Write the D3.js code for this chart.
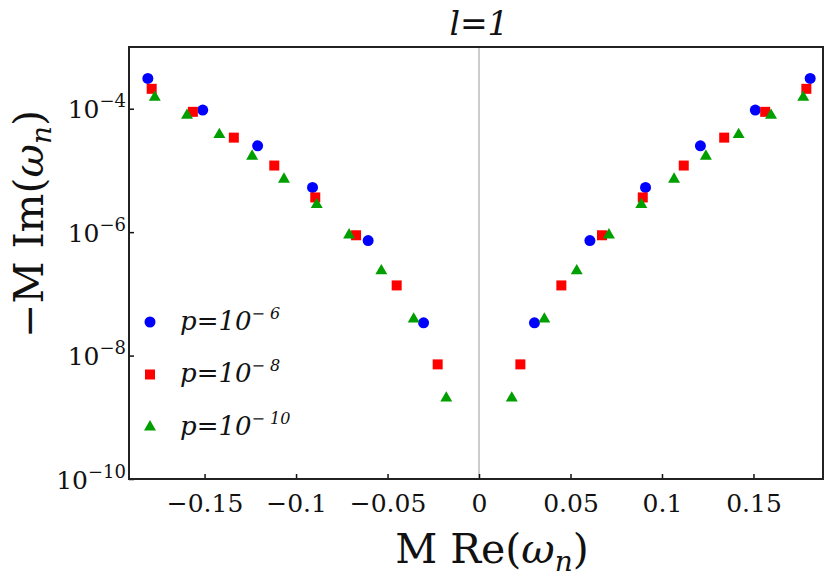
<!DOCTYPE html>
<html><head><meta charset="utf-8">
<script src="https://cdn.jsdelivr.net/npm/d3@7"></script>
<style>body{margin:0;background:#fff} svg{display:block}</style>
</head><body>
<svg id="c" width="830" height="577"></svg>
<script>
// ---- data ----
const blueX = [-0.181, -0.151, -0.121, -0.091, -0.0606, -0.0303, 0.0303, 0.0606, 0.091, 0.121, 0.151, 0.181];
const blueY = [3.1e-4, 9.5e-5, 2.5e-5, 5.3e-6, 7.3e-7, 3.4e-8, 3.4e-8, 7.3e-7, 5.3e-6, 2.5e-5, 9.5e-5, 3.1e-4];
const redX  = [-0.1789, -0.1564, -0.134, -0.1119, -0.0895, -0.0672, -0.045, -0.0226, 0.0226, 0.045, 0.0672, 0.0895, 0.1119, 0.134, 0.1564, 0.1789];
const redY  = [2.1e-4, 8.9e-5, 3.4e-5, 1.2e-5, 3.65e-6, 8.9e-7, 1.37e-7, 7.2e-9, 7.2e-9, 1.37e-7, 8.9e-7, 3.65e-6, 1.2e-5, 3.4e-5, 8.9e-5, 2.1e-4];
const greenX = [-0.1772, -0.1596, -0.1419, -0.124, -0.1066, -0.0887, -0.071, -0.0534, -0.0357, -0.0179, 0.0179, 0.0357, 0.0534, 0.071, 0.0887, 0.1066, 0.124, 0.1419, 0.1596, 0.1772];
const greenY = [1.53e-4, 7.8e-5, 3.8e-5, 1.7e-5, 7.2e-6, 2.8e-6, 9.0e-7, 2.36e-7, 3.9e-8, 2.05e-9, 2.05e-9, 3.9e-8, 2.36e-7, 9.0e-7, 2.8e-6, 7.2e-6, 1.7e-5, 3.8e-5, 7.8e-5, 1.53e-4];
const seriesNames = ["p=10", "p=10", "p=10"];
const seriesExps = ["\u2212 6", "\u2212 8", "\u2212 10"];
const xTicks = [-0.15, -0.1, -0.05, 0, 0.05, 0.1, 0.15];
const xTickLabels = ["\u22120.15", "\u22120.1", "\u22120.05", "0", "0.05", "0.1", "0.15"];
const yTicks = [1e-10, 1e-8, 1e-6, 1e-4];
const yTickExps = ["\u221210", "\u22128", "\u22126", "\u22124"];
const titleText = "l=1";

// ---- layout ----
const L = 129, R = 823, T = 47, B = 479;
const FONT = "'DejaVu Serif', serif";
const svg = d3.select("#c");
const x = d3.scaleLinear().domain([-0.1913, 0.188]).range([L, R]);
const y = d3.scaleLog().domain([1e-10, 1e-3]).range([B, T]);

// zero line
svg.append("line").attr("x1", x(0)).attr("x2", x(0)).attr("y1", T).attr("y2", B)
  .attr("stroke", "#cccccc").attr("stroke-width", 2);

// bottom axis
const gx = svg.append("g").attr("transform", `translate(0,${B})`)
  .call(d3.axisBottom(x).tickValues(xTicks).tickSizeInner(-5).tickSizeOuter(0).tickPadding(15)
    .tickFormat((d, i) => xTickLabels[i]));
gx.select(".domain").remove();
gx.selectAll(".tick line").attr("stroke", "#111").attr("stroke-width", 1.5);
gx.selectAll(".tick text").attr("font-family", FONT).attr("font-size", 25).attr("fill", "#111");

// left axis
const gy = svg.append("g").attr("transform", `translate(${L},0)`)
  .call(d3.axisLeft(y).tickValues(yTicks).tickSizeInner(-5).tickSizeOuter(0).tickPadding(4)
    .tickFormat(() => ""));
gy.select(".domain").remove();
gy.selectAll(".tick line").attr("stroke", "#111").attr("stroke-width", 1.5);
gy.selectAll(".tick text").each(function(d, i) {
  const t = d3.select(this).attr("font-family", FONT).attr("fill", "#111").attr("dy", 9).attr("x", -3);
  t.append("tspan").attr("font-size", 25).text("10");
  t.append("tspan").attr("font-size", 18).attr("dy", -11).text(yTickExps[i]);
});

// frame
svg.append("rect").attr("x", L).attr("y", T).attr("width", R - L).attr("height", B - T)
  .attr("fill", "none").attr("stroke", "#222").attr("stroke-width", 2);

// series
const series = [
  {xs: blueX, ys: blueY, type: d3.symbolCircle, size: 95, color: "#0000ff"},
  {xs: redX, ys: redY, type: d3.symbolSquare, size: 100, color: "#ff0000"},
  {xs: greenX, ys: greenY, type: d3.symbolTriangle, size: 62, color: "#009f00"}
];
series.forEach(s => {
  const sym = d3.symbol().type(s.type).size(s.size);
  svg.append("g").selectAll("path").data(s.xs.map((v, i) => [v, s.ys[i]])).join("path")
    .attr("d", sym).attr("transform", d => `translate(${x(d[0])},${y(d[1])})`)
    .attr("fill", s.color);
});

// legend
series.forEach((s, i) => {
  const ly = 322 + i * 52.5;
  svg.append("path").attr("d", d3.symbol().type(s.type).size(s.size))
    .attr("transform", `translate(150,${ly})`).attr("fill", s.color);
  const t = svg.append("text").attr("x", 180).attr("y", ly + 7.5)
    .attr("font-family", FONT).attr("font-style", "italic").attr("fill", "#111");
  t.append("tspan").attr("font-size", 26).text(seriesNames[i]);
  t.append("tspan").attr("font-size", 16).attr("dy", -11).text(seriesExps[i]);
});

// title
svg.append("text").attr("x", 479).attr("y", 35).attr("text-anchor", "middle")
  .attr("font-family", FONT).attr("font-style", "italic").attr("font-size", 33).attr("fill", "#111")
  .text(titleText);

// x label
const xl = svg.append("text").attr("x", 492).attr("y", 563).attr("text-anchor", "middle")
  .attr("font-family", FONT).attr("font-size", 41).attr("fill", "#111");
xl.append("tspan").text("M Re(");
xl.append("tspan").attr("font-style", "italic").text("\u03c9");
xl.append("tspan").attr("font-style", "italic").attr("font-size", 28).attr("dy", 8).text("n");
xl.append("tspan").attr("dy", -8).text(")");

// y label
const yl = svg.append("text").attr("transform", "translate(43,224) rotate(-90)").attr("text-anchor", "middle")
  .attr("font-family", FONT).attr("font-size", 41).attr("fill", "#111");
yl.append("tspan").text("\u2212M Im(");
yl.append("tspan").attr("font-style", "italic").text("\u03c9");
yl.append("tspan").attr("font-style", "italic").attr("font-size", 28).attr("dy", 8).text("n");
yl.append("tspan").attr("dy", -8).text(")");
</script>
</body></html>
